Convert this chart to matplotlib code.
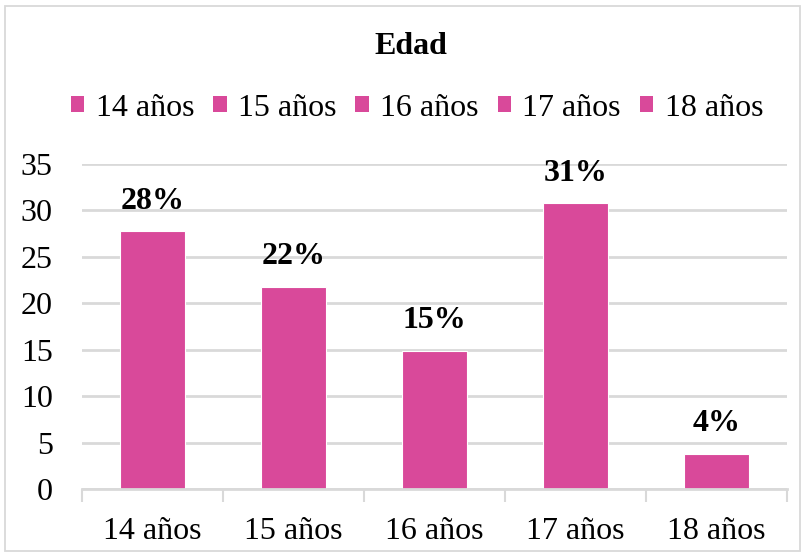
import matplotlib
matplotlib.use("Agg")
import matplotlib.pyplot as plt
from matplotlib.patches import Rectangle, Patch
import numpy as np

categories = ["14 años", "15 años", "16 años", "17 años", "18 años"]
values = [27.8, 21.8, 14.9, 30.8, 3.8]
yticks = [0, 5, 10, 15, 20, 25, 30, 35]
title = "Edad"

bar_color = "#D9499A"
grid_color = "#D9D9D9"

plt.rcParams['font.family'] = ['Liberation Serif', 'DejaVu Serif']

W, H = 806, 556
FS = 23
fig = plt.figure(figsize=(W/100, H/100), dpi=100)
fig.patch.set_facecolor("white")

# outer border
fig.patches.append(Rectangle((5/W, 5/H), (W-11)/W, (H-11)/H, transform=fig.transFigure,
                             fill=False, edgecolor="#D9D9D9", linewidth=1.3))

ax = fig.add_axes([82/W, 1-489/H, (787-82)/W, (489-164)/H])
x = np.arange(len(categories))
bars = ax.bar(x, values, width=0.466, color=bar_color, zorder=3,
              edgecolor="white", linewidth=0.8)

ax.set_xlim(-0.5, len(categories)-0.5)
ax.set_ylim(0, 35)
ax.set_yticks(yticks)
ax.set_yticklabels([str(t) for t in yticks], fontsize=FS)
ax.tick_params(axis='y', length=0, pad=21)
ax.yaxis.grid(True, color=grid_color, linewidth=2, zorder=0)
ax.set_axisbelow(True)

ax.set_xticks(x)
ax.set_xticklabels(categories, fontsize=FS)
ax.tick_params(axis='x', which='major', length=0, pad=20)
ax.set_xticks(np.arange(-0.5, len(categories), 1.0), minor=True)
ax.tick_params(axis='x', which='minor', length=9, width=1.5, color=grid_color, direction='out')

for s in ["top", "right", "left"]:
    ax.spines[s].set_visible(False)
ax.spines["bottom"].set_color(grid_color)
ax.spines["bottom"].set_linewidth(2)
ax.spines["bottom"].set_zorder(4)

for xi, v in zip(x, values):
    ax.annotate(f"{v:.0f}%", xy=(xi, v), xytext=(0, 11), textcoords="offset points",
                ha="center", va="bottom", fontsize=FS, fontweight="bold", color="black")

fig.text(411/W, 1-46/H, title, ha="center", va="center", fontsize=FS, fontweight="bold")

handles = [Patch(facecolor=bar_color, edgecolor="none") for _ in categories]
fig.legend(handles, categories, loc="center", bbox_to_anchor=(417/W, 1-108/H),
           ncol=5, frameon=False, fontsize=FS, handlelength=0.42, handleheight=0.42,
           handletextpad=0.35, columnspacing=0.6, borderaxespad=0)

fig.savefig("out.png", dpi=100)
